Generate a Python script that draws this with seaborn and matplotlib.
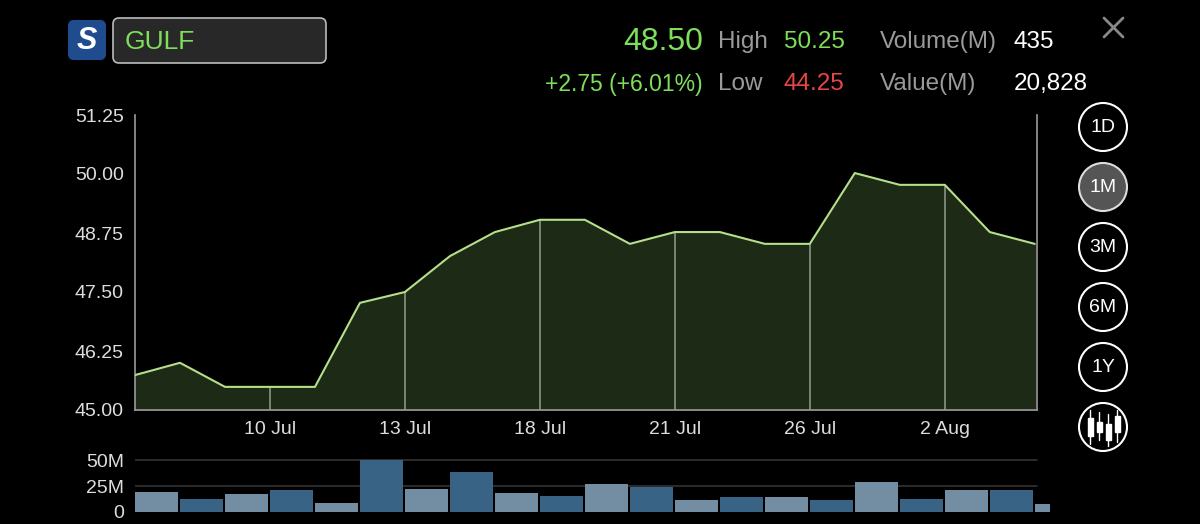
import matplotlib
matplotlib.use("Agg")
import matplotlib.pyplot as plt
import seaborn as sns
import numpy as np
import pandas as pd
from matplotlib.patches import FancyBboxPatch, Circle, Rectangle

prices = [45.74, 46.0, 45.49, 45.49, 45.49, 47.27, 47.5, 48.26, 48.77, 49.03, 49.03,
          48.52, 48.77, 48.77, 48.52, 48.52, 50.02, 49.77, 49.77, 48.77, 48.52]
volumes = [19.6, 12.7, 17.6, 21.6, 8.8, 50.0, 22.5, 39.0, 18.6, 15.7, 27.5, 24.5,
           11.8, 14.7, 14.7, 11.8, 29.4, 12.7, 21.6, 21.6, 7.8]
tick_idx = [3, 6, 9, 12, 15, 18]
tick_labels = ["10 Jul", "13 Jul", "18 Jul", "21 Jul", "26 Jul", "2 Aug"]
y_ticks = [45.00, 46.25, 47.50, 48.75, 50.00, 51.25]
vol_ticks = [0, 25, 50]
vol_tick_labels = ["0", "25M", "50M"]

sns.set_style("dark")
plt.rcParams['font.family'] = ['Liberation Sans', 'DejaVu Sans']
W, H = 1200, 524
fig = plt.figure(figsize=(12, 5.24), dpi=100, facecolor="black")

def ax_rect(l, t, r, b):
    return [l / W, 1 - b / H, (r - l) / W, (b - t) / H]

n = len(prices)
df = pd.DataFrame({"i": np.arange(n), "p": prices})
ax = fig.add_axes(ax_rect(135, 115, 1037, 410))
ax.set_facecolor("black")
ax.fill_between(df.i, 45.0, df.p, color="#1d2a16", zorder=1)
sns.lineplot(data=df, x="i", y="p", ax=ax, color="#b5e08a", lw=1.5, zorder=3)
for t in tick_idx:
    ax.plot([t, t], [45.0, prices[t]], color="#8a9385", lw=1.2, zorder=2)
ax.set_xlim(0, n - 1 + 0.05)
ax.set_ylim(45.0, 51.25)
ax.set_yticks(y_ticks)
ax.set_yticklabels([f"{v:.2f}" for v in y_ticks])
ax.set_xticks(tick_idx)
ax.set_xticklabels(tick_labels)
ax.tick_params(colors="#dddddd", labelsize=14, length=0, pad=8)
ax.grid(False)
ax.set_xlabel(""); ax.set_ylabel("")
ax.spines["top"].set_visible(False)
for s in ["left", "bottom", "right"]:
    ax.spines[s].set_visible(True)
    ax.spines[s].set_color("#9a9a9a")
    ax.spines[s].set_linewidth(1.2)

# volume
vax = fig.add_axes(ax_rect(135, 455, 1050, 512))
vax.set_facecolor("black")
vdf = pd.DataFrame({"x": np.arange(n) + 0.475, "v": volumes,
                    "k": ["a" if i % 2 == 0 else "b" for i in range(n)]})
sns.barplot(data=vdf, x="x", y="v", hue="k", native_scale=True, dodge=False,
            palette={"a": "#6b8fab", "b": "#2d6590"}, width=0.95, legend=False,
            ax=vax, linewidth=0, edgecolor="none")
for p in vax.patches:
    p.set_zorder(3)
xmax = (1050 - 135) / 45.0
for yv in [25, 50]:
    vax.axhline(yv, xmax=(1037 - 135) / (1050 - 135), color="#333333", lw=1.2, zorder=0.5)
vax.set_xlim(0, xmax)
vax.set_ylim(0, 55)
vax.set_yticks(vol_ticks)
vax.set_yticklabels(vol_tick_labels)
vax.set_xticks([])
vax.tick_params(colors="#dddddd", labelsize=14, length=0, pad=8)
vax.grid(False)
vax.set_xlabel(""); vax.set_ylabel("")
for s in vax.spines.values():
    s.set_visible(False)

# header
ov = fig.add_axes([0, 0, 1, 1]); ov.set_xlim(0, W); ov.set_ylim(H, 0); ov.axis("off")
ov.add_patch(FancyBboxPatch((68, 20), 38, 40, boxstyle="round,pad=0,rounding_size=6",
                            fc="#1f4b8f", ec="none"))
ov.text(87, 41, "S", color="white", fontsize=22, fontweight="bold", ha="center", va="center", style="italic")
ov.add_patch(FancyBboxPatch((113, 18), 213, 45, boxstyle="round,pad=0,rounding_size=6",
                            fc="#282828", ec="#bbbbbb", lw=1.2))
ov.text(125, 42, "GULF", color="#7ee05a", fontsize=19, va="center")
green = "#7ee05a"; gray = "#9a9a9a"
ov.text(703, 42, "48.50", color=green, fontsize=23, ha="right", va="center")
ov.text(718, 42, "High", color=gray, fontsize=17.5, va="center")
ov.text(784, 42, "50.25", color=green, fontsize=17.5, va="center")
ov.text(880, 42, "Volume(M)", color=gray, fontsize=17.5, va="center")
ov.text(1014, 42, "435", color="white", fontsize=17.5, va="center")
ov.text(703, 84, "+2.75 (+6.01%)", color=green, fontsize=16.5, ha="right", va="center")
ov.text(718, 84, "Low", color=gray, fontsize=17.5, va="center")
ov.text(784, 84, "44.25", color="#e84545", fontsize=17.5, va="center")
ov.text(880, 84, "Value(M)", color=gray, fontsize=17.5, va="center")
ov.text(1014, 84, "20,828", color="white", fontsize=17.5, va="center")
ov.plot([1104, 1123], [18, 37], color="#888888", lw=2)
ov.plot([1104, 1123], [37, 18], color="#888888", lw=2)

for j, lab in enumerate(["1D", "1M", "3M", "6M", "1Y", ""]):
    cy = 127 + 60 * j
    ov.add_patch(Circle((1103, cy), 24, fc="#555555" if lab == "1M" else "black",
                        ec="white" if lab != "1M" else "#dddddd", lw=1.5))
    if lab:
        ov.text(1103, cy, lab, color="white", fontsize=14, ha="center", va="center")
for dx, top, bot, bt, bb in [(-13, 410, 444, 418, 436), (-4, 412, 440, 422, 432),
                             (5, 414, 446, 424, 440), (14, 410, 442, 416, 432)]:
    ov.plot([1103 + dx, 1103 + dx], [top, bot], color="white", lw=1)
    ov.add_patch(Rectangle((1103 + dx - 2.5, bt), 5, bb - bt, fc="white", ec="white"))

fig.savefig("out.png", dpi=100, facecolor="black")
